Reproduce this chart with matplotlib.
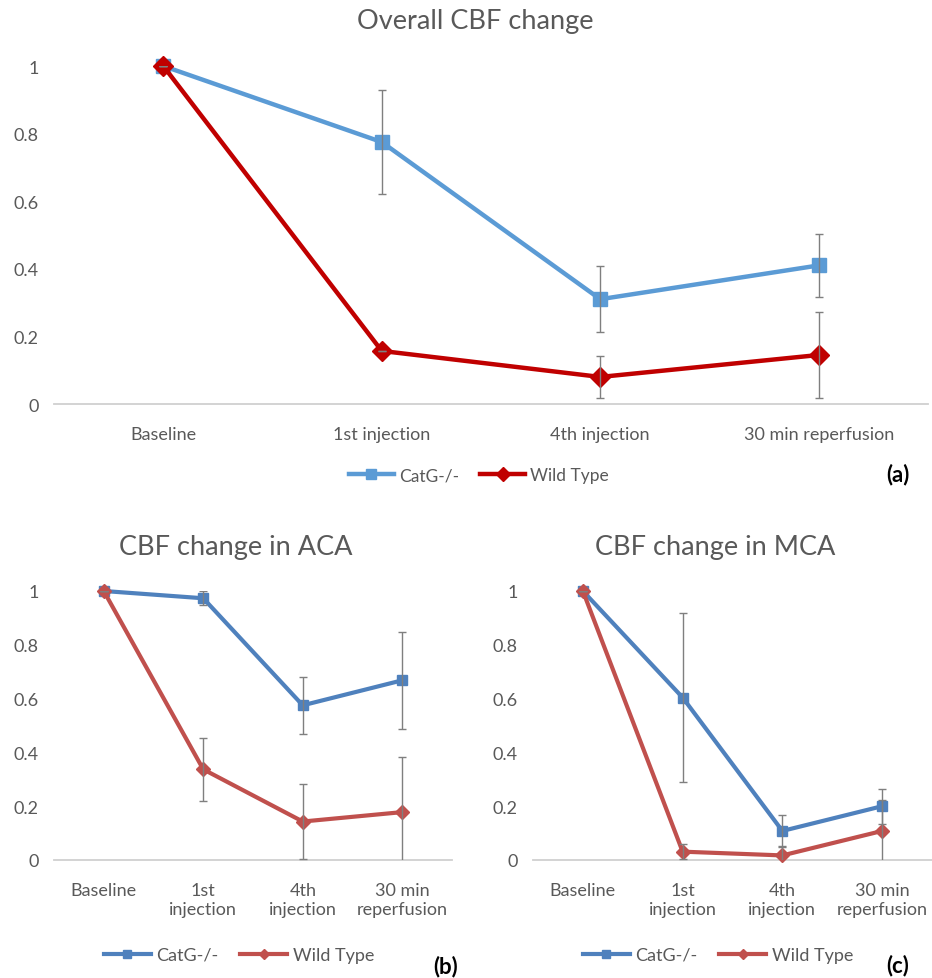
import numpy as np
import matplotlib
matplotlib.use('Agg')
import matplotlib.pyplot as plt

plt.rcParams['font.family'] = ['Lato', 'DejaVu Sans']

# categories
cats_a = ['Baseline', '1st injection', '4th injection', '30 min reperfusion']
cats_bc = ['Baseline', '1st\ninjection', '4th\ninjection', '30 min\nreperfusion']

# panel (a) overall
a_catg = [1.0, 0.775, 0.31, 0.41]
a_catg_err = [0.0, 0.153, 0.098, 0.093]
a_wt = [1.0, 0.157, 0.08, 0.145]
a_wt_err = [0.0, 0.0, 0.062, 0.128]

# panel (b) ACA
b_catg = [1.0, 0.973, 0.575, 0.668]
b_catg_err = [0.0, 0.026, 0.107, 0.18]
b_wt = [1.0, 0.337, 0.143, 0.178]
b_wt_err = [0.0, 0.117, 0.141, 0.205]

# panel (c) MCA
c_catg = [1.0, 0.604, 0.108, 0.200]
c_catg_err = [0.0, 0.315, 0.06, 0.065]
c_wt = [1.0, 0.031, 0.017, 0.108]
c_wt_err = [0.0, 0.027, 0.035, 0.115]

TXT = '#595959'
ERR = '#7f7f7f'
W, H = 932, 979


def panel(fig, rect, title, title_x, title_y, cats, catg, catg_err, wt, wt_err,
          col_c, col_w, lw, ms, leg_x, leg_y, leg_fs, tag, tag_xy):
    ax = fig.add_axes(rect)
    x = np.arange(len(cats))
    ax.plot(x, catg, color=col_c, lw=lw, marker='s', ms=ms, zorder=3,
            clip_on=False, label='CatG-/-')
    ax.plot(x, wt, color=col_w, lw=lw, marker='D', ms=ms, zorder=4,
            clip_on=False, label='Wild Type')
    ax.errorbar(x, catg, yerr=catg_err, fmt='none', ecolor=ERR, elinewidth=1,
                capsize=3, capthick=1, zorder=5)
    ax.errorbar(x, wt, yerr=wt_err, fmt='none', ecolor=ERR, elinewidth=1,
                capsize=3, capthick=1, zorder=5)
    ax.set_xlim(-0.5, len(cats) - 0.5)
    ax.set_ylim(0, 1)
    ax.set_yticks([0, 0.2, 0.4, 0.6, 0.8, 1])
    ax.set_yticklabels(['0', '0.2', '0.4', '0.6', '0.8', '1'])
    ax.set_xticks(x)
    ax.set_xticklabels(cats)
    ax.tick_params(axis='both', length=0, labelsize=13, labelcolor=TXT)
    ax.tick_params(axis='y', pad=11)
    ax.tick_params(axis='x', pad=16)
    for s in ['top', 'right', 'left']:
        ax.spines[s].set_visible(False)
    ax.spines['bottom'].set_color('#d0d0d0')
    ax.spines['bottom'].set_linewidth(1.3)
    fig.text(title_x / W, 1 - title_y / H, title, fontsize=19.5, color=TXT,
             ha='center', va='center')
    leg = fig.legend(*ax.get_legend_handles_labels(), loc='center',
                     bbox_to_anchor=(leg_x / W, 1 - leg_y / H), ncol=2,
                     frameon=False, fontsize=leg_fs, handlelength=2.6,
                     handletextpad=0.3, columnspacing=1.2, markerscale=0.7)
    for t in leg.get_texts():
        t.set_color(TXT)
    fig.text(tag_xy[0] / W, 1 - tag_xy[1] / H, tag, fontsize=16,
             fontweight='bold', ha='center', va='center', color='black')
    return ax


fig = plt.figure(figsize=(W / 100, H / 100), dpi=100)

panel(fig, [54 / W, 1 - 405 / H, 874 / W, 338 / H], 'Overall CBF change', 475, 22,
      cats_a, a_catg, a_catg_err, a_wt, a_wt_err, '#5b9bd5', '#c00000',
      3.2, 10, 479, 476, 12.5, '(a)', (898, 475))

panel(fig, [54 / W, 1 - 861 / H, 398 / W, 269 / H], 'CBF change in ACA', 236, 547,
      cats_bc, b_catg, b_catg_err, b_wt, b_wt_err, '#4f81bd', '#c0504d',
      3, 7.5, 239, 956, 13, '(b)', (446, 967))

panel(fig, [533 / W, 1 - 861 / H, 399 / W, 269 / H], 'CBF change in MCA', 715, 547,
      cats_bc, c_catg, c_catg_err, c_wt, c_wt_err, '#4f81bd', '#c0504d',
      3, 7.5, 718, 956, 13, '(c)', (898, 966))

fig.savefig('out.png', dpi=100)
